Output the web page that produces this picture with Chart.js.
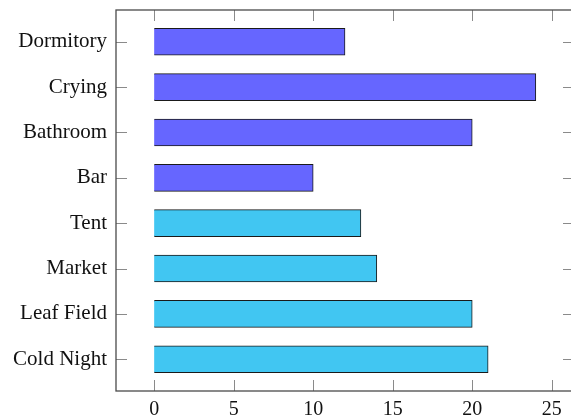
<!DOCTYPE html>
<html><head><meta charset="utf-8">
<script src="https://cdn.jsdelivr.net/npm/chart.js@4"></script>
<style>html,body{margin:0;padding:0;overflow:hidden;background:#fff;}canvas{display:block;}</style>
</head><body>
<canvas id="c" width="576" height="415" style="width:576px;height:415px"></canvas>
<script>
const groupACategories = ['Dormitory', 'Crying', 'Bathroom', 'Bar'];
const groupAValues = [12, 24, 20, 10];
const groupBCategories = ['Tent', 'Market', 'Leaf Field', 'Cold Night'];
const groupBValues = [13, 14, 20, 21];
const categories = groupACategories.concat(groupBCategories);
const xTicks = [0, 5, 10, 15, 20, 25];

const FONT = "'Liberation Serif', 'DejaVu Serif', serif";

const dsA = groupACategories.map((c, i) => ({ x: groupAValues[i], y: categories.indexOf(c) }));
const dsB = groupBCategories.map((c, i) => ({ x: groupBValues[i], y: categories.indexOf(c) }));

const innerTicks = {
  id: 'innerTicks',
  afterDraw(chart) {
    const { ctx, chartArea: a, scales } = chart;
    const L = 11;
    ctx.save();
    ctx.strokeStyle = '#8a8a8a';
    ctx.lineWidth = 1;
    ctx.beginPath();
    xTicks.forEach(v => {
      const px = Math.round(scales.x.getPixelForValue(v)) + 0.5;
      ctx.moveTo(px, a.bottom); ctx.lineTo(px, a.bottom - L);
      ctx.moveTo(px, a.top); ctx.lineTo(px, a.top + L);
    });
    categories.forEach((c, i) => {
      const py = Math.round(scales.y.getPixelForValue(i)) + 0.5;
      ctx.moveTo(a.left, py); ctx.lineTo(a.left + L, py);
      ctx.moveTo(a.right, py); ctx.lineTo(a.right - L, py);
    });
    ctx.stroke();
    ctx.strokeStyle = '#4a4a4a';
    ctx.lineWidth = 1.3;
    ctx.strokeRect(a.left, a.top, a.right - a.left, a.bottom - a.top);
    ctx.restore();
  }
};

new Chart(document.getElementById('c'), {
  type: 'bar',
  data: {
    datasets: [
      { data: dsA, backgroundColor: '#6666ff', borderColor: '#1a1a1a', borderWidth: 1 },
      { data: dsB, backgroundColor: '#41c6f2', borderColor: '#1a1a1a', borderWidth: 1 }
    ]
  },
  options: {
    indexAxis: 'y',
    responsive: false,
    animation: false,
    devicePixelRatio: 1,
    grouped: false,
    barThickness: 27,
    layout: { padding: { top: 10, right: 2, left: 0, bottom: 0 } },
    plugins: { legend: { display: false }, tooltip: { enabled: false } },
    scales: {
      x: {
        type: 'linear',
        min: -2.4, max: 26.4,
        afterBuildTicks(s) { s.ticks = xTicks.map(v => ({ value: v })); },
        afterFit(s) { s.height = 24; s.paddingLeft = 0; s.paddingRight = 0; },
        grid: { display: false },
        border: { display: false },
        ticks: { color: '#111', padding: -1, maxRotation: 0, font: { family: FONT, size: 20 } }
      },
      y: {
        type: 'linear',
        reverse: true,
        offset: false,
        min: -0.7, max: 7.7,
        afterBuildTicks(s) { s.ticks = categories.map((c, i) => ({ value: i })); },
        afterFit(s) { s.width = 116; s.paddingTop = 0; s.paddingBottom = 0; },
        grid: { display: false },
        border: { display: false },
        ticks: {
          color: '#111', padding: 1, font: { family: FONT, size: 21 },
          callback: v => categories[v]
        }
      }
    }
  },
  plugins: [innerTicks]
});
</script>
</body></html>
